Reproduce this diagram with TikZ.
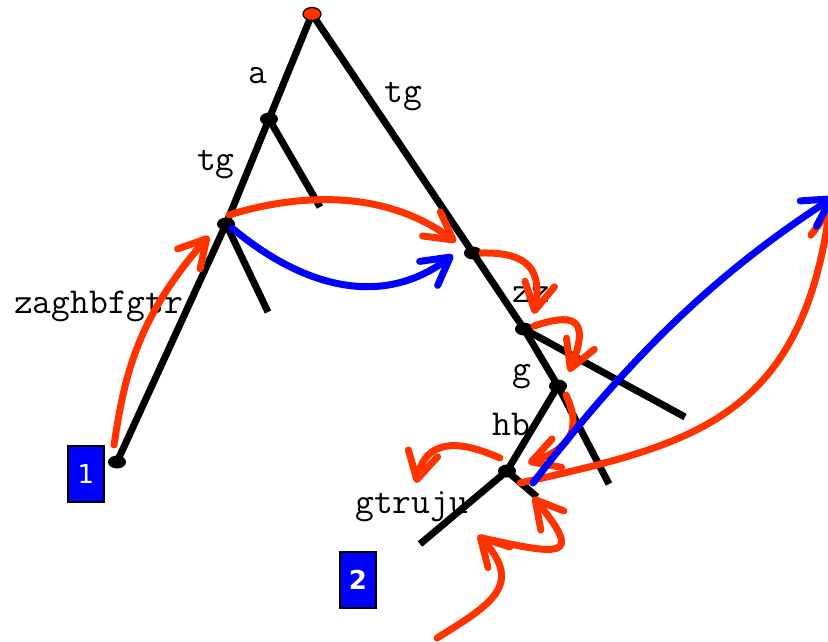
\documentclass[tikz,border=0pt]{standalone}
\usepackage{fontspec}
\newfontfamily\boxfont{DejaVu Sans}
\usetikzlibrary{arrows.meta,shapes.geometric}
\definecolor{myred}{HTML}{FF3300}
\definecolor{myblue}{HTML}{0000FF}
\tikzset{
  edge/.style={line width=7pt,black},
  dot/.style={ellipse,fill=black,minimum width=18pt,minimum height=13pt,inner sep=0pt},
  reddot/.style={ellipse,fill=myred,draw=black,line width=1.2pt,minimum width=18pt,minimum height=13pt,inner sep=0pt},
  lab/.style={font=\fontsize{36.5}{36.5}\selectfont\ttfamily,inner sep=0pt,anchor=base west},
  numbox/.style={rectangle,fill=myblue,draw=black,line width=1.5pt,minimum width=36pt,minimum height=56pt,inner sep=0pt,text=white,font=\boxfont\fontsize{26}{26}\selectfont},
  rarrow/.style={line width=7pt,myred,line cap=round,-{Straight Barb[length=27pt,width=30pt,round]}},
  barrow/.style={line width=7pt,myblue,line cap=round,-{Straight Barb[length=27pt,width=30pt,round]}},
}
\begin{document}
\begin{tikzpicture}[x=1pt,y=-1pt]
\useasboundingbox (0,0) rectangle (828,641);
% labels
\node[lab] (la) at (248,83) {a};
\node[lab] (ltg1) at (197,170) {tg};
\node[lab] (ltg2) at (384,102) {tg};
\node[lab] (lz) at (14,313) {zaghbfgtr};
\node[lab] (lzz) at (512,302) {zz};
\node[lab] (lg) at (512,380) {g};
\node[lab] (lhb) at (492,435) {hb};
\node[lab] (lgt) at (355,513) {gtruju};
% boxes
\node[numbox] (b1) at (86,474) {1};
\node[numbox,font=\boxfont\bfseries\fontsize{26}{26}\selectfont] (b2) at (358,580) {2};
% tree nodes
\coordinate (r) at (312,14);
\coordinate (n1) at (269,119);
\coordinate (n2) at (226,224);
\coordinate (n3) at (117,462);
\coordinate (n4) at (473,253);
\coordinate (n5) at (524,329);
\coordinate (n6) at (558,386);
\coordinate (n7) at (507,471);
\coordinate (s1) at (320,207);
\coordinate (s2) at (268,312);
\coordinate (s5) at (685,417);
\coordinate (s6) at (609,484);
\coordinate (s7a) at (420,544);
\coordinate (s7b) at (537,497);
\draw[edge] (r) -- (n1) -- (n2) -- (n3);
\draw[edge] (n1) -- (s1);
\draw[edge] (n2) -- (s2);
\draw[edge] (r) -- (n4) -- (n5) -- (n6) -- (n7) -- (s7a);
\draw[edge] (n5) -- (s5);
\draw[edge] (n6) -- (s6);
\draw[edge] (n7) -- (s7b);
\node[dot] (d1) at (n1) {};
\node[dot] (d2) at (n2) {};
\node[dot] (d3) at (n3) {};
\node[dot] (d4) at (n4) {};
\node[dot] (d5) at (n5) {};
\node[dot] (d6) at (n6) {};
\node[dot] (d7) at (n7) {};
\node[reddot] (dr) at (r) {};
% arrow end points
\coordinate (a1s) at (114,445);
\coordinate (a1e) at (209,236);
\coordinate (a2s) at (229,215);
\coordinate (a2e) at (456,242);
\coordinate (a3s) at (232,228);
\coordinate (a3e) at (453,255);
\coordinate (a4s) at (482,253);
\coordinate (a4e) at (534,314);
\coordinate (a5s) at (534,326);
\coordinate (a5e) at (569,372);
\coordinate (a6s) at (566,395);
\coordinate (a6e) at (528,463);
\coordinate (a7s) at (500,458);
\coordinate (a7e) at (416,483);
\coordinate (a8s) at (437,638);
\coordinate (a8e) at (478,535);
\coordinate (a9s) at (482,538);
\coordinate (a9e) at (533,497);
\coordinate (a10s) at (520,483);
\coordinate (a10e) at (830,207);
\coordinate (a11s) at (533,483);
\coordinate (a11e) at (834,197);
% red arrows
\draw[rarrow] (a1s) .. controls (124,380) and (135,320) .. (a1e);
\draw[rarrow] (a2s) .. controls (290,196) and (380,186) .. (a2e);
\draw[rarrow] (a4s) .. controls (530,252) and (542,272) .. (a4e);
\draw[rarrow] (a5s) .. controls (570,314) and (592,315) .. (a5e);
\draw[rarrow] (a6s) .. controls (580,425) and (575,447) .. (a6e);
\draw[rarrow] (a7s) .. controls (470,445) and (428,432) .. (a7e);
\draw[rarrow] (a8s) .. controls (490,605) and (525,585) .. (a8e);
\draw[rarrow] (a9s) .. controls (560,555) and (585,560) .. (a9e);
\draw[rarrow] (a10s) .. controls (690,445) and (800,420) .. (a10e);
% blue arrows
\draw[barrow] (a3s) .. controls (300,285) and (380,310) .. (a3e);
\draw[barrow] (a11s) .. controls (620,370) and (705,280) .. (a11e);
\end{tikzpicture}
\end{document}
